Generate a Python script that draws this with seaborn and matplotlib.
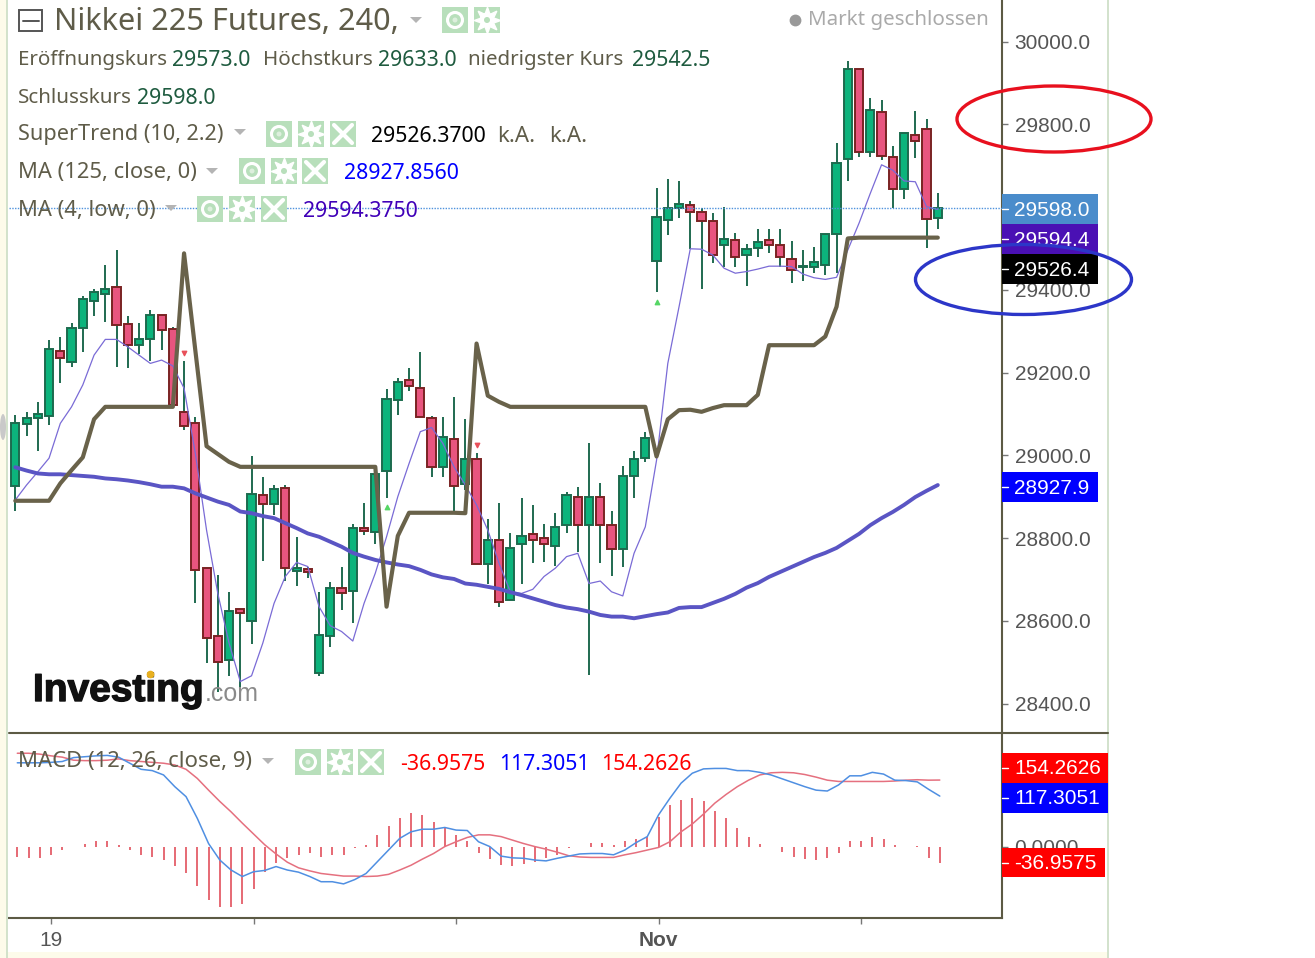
import matplotlib
matplotlib.use("Agg")
import matplotlib.pyplot as plt
import matplotlib.patheffects as pe
import numpy as np
import pandas as pd
import seaborn as sns
from matplotlib.patches import Ellipse, Rectangle, Circle, Polygon

# ---------- data ----------
opens = [28926,29076,29089,29095,29253,29225,29307,29374,29389,29407,29317,29266,29280,29340,29304,29104,29077,
         28727,28564,28505,28628,28600,28904,28881,28922,28721,28725,28473,28564,28678,28673,28823,28814,28963,
         29134,29181,29163,29090,28972,29040,28930,28991,28736,28795,28650,28786,28810,28801,28781,28831,28900,
         28831,28900,28831,28773,28950,28994,29470,29569,29597,29606,29589,29565,29507,29520,29484,29502,29521,
         29507,29474,29456,29456,29461,29534,29716,29934,29732,29830,29720,29643,29775,29789,29573]
highs = [29097,29105,29128,29279,29287,29319,29386,29403,29460,29496,29337,29319,29351,29340,29309,29228,29092,
         28727,28711,28670,28628,28997,28947,28928,28928,28802,28729,28670,28693,28729,28833,28884,28955,29159,
         29186,29210,29250,29095,29092,29142,29087,29005,28847,28884,28811,28896,28880,28833,28861,28910,28924,
         29029,28932,28865,28974,29010,29055,29645,29668,29663,29615,29597,29585,29599,29536,29510,29548,29548,
         29548,29518,29496,29504,29535,29754,29953,29934,29863,29859,29748,29780,29831,29812,29635]
lows = [28866,29047,29011,29074,29174,29214,29250,29337,29323,29214,29210,29245,29229,29254,29121,29061,28644,
        28499,28429,28467,28425,28545,28744,28856,28695,28685,28703,28467,28536,28626,28594,28807,28785,28897,
        29097,29156,29093,28948,28948,28865,28915,28736,28689,28634,28650,28689,28739,28743,28733,28811,28765,
        28469,28739,28707,28731,28897,28984,29395,29532,29573,29498,29401,29464,29456,29456,29410,29478,29488,
        29456,29416,29420,29441,29436,29441,29664,29722,29722,29714,29597,29619,29718,29500,29546]
closes = [29077,29091,29100,29258,29234,29308,29377,29395,29403,29316,29266,29281,29340,29303,29121,29071,28723,
          28559,28500,28624,28618,28906,28881,28918,28727,28728,28717,28565,28678,28667,28823,28816,28955,29136,
          29177,29167,29093,28972,29045,28926,28990,28736,28796,28645,28777,28805,28794,28786,28827,28905,28831,
          28900,28831,28773,28950,28990,29041,29576,29598,29607,29587,29565,29484,29522,29478,29499,29516,29507,
          29479,29448,29458,29467,29535,29706,29934,29733,29834,29724,29643,29780,29760,29570,29598]
supertrend = [28890,28890,28890,28890,28932,28964,28995,29087,29117,29117,29117,29117,29117,29117,29117,29488,29254,
              29022,29003,28984,28972,28972,28972,28972,28972,28972,28972,28972,28972,28972,28972,28972,28972,28634,
              28805,28861,28861,28861,28861,28861,28860,29270,29144,29129,29117,29117,29117,29117,29117,29117,29117,
              29117,29117,29117,29117,29117,29117,28997,29087,29109,29110,29105,29114,29121,29121,29121,29146,29266,
              29266,29266,29266,29266,29287,29359,29524,29526,29526,29526,29526,29526,29526,29526,29526]
ma125 = [28971,28963,28956,28954,28954,28952,28950,28948,28944,28942,28939,28935,28930,28924,28924,28920,28908,
         28898,28888,28880,28864,28860,28853,28848,28836,28824,28811,28803,28791,28779,28764,28755,28747,28741,
         28736,28732,28723,28712,28705,28701,28690,28687,28682,28677,28669,28662,28654,28646,28638,28632,28628,
         28622,28614,28610,28610,28606,28611,28616,28620,28631,28633,28633,28643,28653,28665,28680,28691,28706,
         28718,28730,28742,28754,28764,28776,28793,28810,28831,28848,28863,28880,28899,28914,28928]
ma4 = [28892,28928,28960,28993,29077,29117,29170,29242,29280,29280,29262,29242,29222,29230,29216,29162,29005,
       28819,28666,28546,28453,28467,28546,28642,28707,28741,28731,28634,28588,28574,28551,28642,28715,28803,
       28900,28980,29057,29067,29029,28972,28928,28880,28819,28739,28670,28666,28676,28707,28727,28755,28763,
       28690,28696,28670,28660,28763,28827,28988,29222,29359,29499,29498,29484,29452,29440,29444,29450,29457,
       29457,29456,29438,29429,29425,29430,29496,29561,29633,29702,29689,29663,29661,29601,29594]
macd_line = [194,194,194,195,197,206,208,210,211,207,193,179,176,166,139,116,66,8,-30,-53,-68,-57,-54,-45,-53,-58,
             -68,-80,-80,-85,-75,-61,-34,-7,20,35,41,41,45,39,38,12,1,-21,-25,-26,-30,-32,-26,-21,-16,-15,-15,-18,
             -7,10,24,74,112,147,170,180,181,181,176,176,172,166,157,148,139,131,129,143,164,164,172,168,154,153,
             150,133,117.3]
signal_line = [216,216,214,210,207,200,199,199,200,203,199,197,195,193,189,179,158,131,105,81,55,30,5,-16,-35,-48,
               -55,-61,-64,-67,-67,-68,-67,-63,-53,-42,-28,-15,1,12,22,28,28,24,16,8,1,-5,-12,-20,-23,-24,-24,-24,
               -18,-13,-7,-1,12,35,53,76,101,121,139,154,166,171,172,171,167,161,154,151,151,151,151,151,152,154,
               155,154,154.26]
hist = [-22,-26,-26,-18,-8,1,8,14,13,4,-8,-18,-22,-31,-43,-61,-91,-121,-138,-139,-131,-96,-57,-38,-26,-18,-13,-22,
        -18,-18,-3,5,27,48,66,78,73,57,44,27,14,-13,-27,-41,-43,-39,-35,-26,-18,-3,0,9,9,5,14,18,24,68,96,108,113,
        106,83,66,44,22,8,1,-12,-22,-27,-31,-26,-13,13,13,22,18,5,0,2,-26,-37]
price_ticks = [28400, 28600, 28800, 29000, 29200, 29400, 29600, 29800, 30000]
visible_price_ticks = [t for t in price_ticks if t != 29600]
date_tick_idx = [3, 21, 39, 57, 75]
date_tick_labels = ["19", "", "", "Nov", ""]
arrow_up = {33: 28874, 57: 29371}
arrow_down = {15: 29246, 41: 29025}
last_close = 29598

# ---------- styling ----------
sns.set_theme(style="white")
FONT = ["Noto Sans", "DejaVu Sans"]
TICK_FONT = ["Liberation Sans", "DejaVu Sans"]
plt.rcParams["font.family"] = FONT
W, H = 1315, 958
UP, UP_E = "#0CB47C", "#1C6B4E"
DN, DN_E = "#E8557F", "#7A2323"
WICK = "#1F6A50"
FRAME = "#5C5A44"
GREY = "#5F5C49"
DGREEN = "#1E5B3F"

fig = plt.figure(figsize=(W / 100, H / 100), dpi=100, facecolor="white")
L, R, T, MID, BOT = 9, 1002, 0, 733, 918
ax = fig.add_axes([L / W, 1 - MID / H, (R - L) / W, (MID - T) / H])
ax2 = fig.add_axes([L / W, 1 - BOT / H, (R - L) / W, (BOT - MID) / H])
ov = fig.add_axes([0, 0, 1, 1], zorder=10)
ov.set_xlim(0, W); ov.set_ylim(H, 0); ov.axis("off"); ov.patch.set_alpha(0)

idx = np.arange(len(closes))
df = pd.DataFrame({"i": idx, "o": opens, "h": highs, "l": lows, "c": closes,
                   "st": supertrend, "ma125": ma125, "ma4": ma4,
                   "macd": macd_line, "sig": signal_line, "hist": hist})

# ---------- price panel ----------
up = df.c >= df.o
ax.vlines(df.i, df.l, df.h, color=WICK, lw=1.4, zorder=2)
ax.bar(df.i[up], (df.c - df.o)[up], bottom=df.o[up], width=0.72, color=UP, edgecolor=UP_E, linewidth=1.4, zorder=3)
ax.bar(df.i[~up], (df.o - df.c)[~up], bottom=df.c[~up], width=0.72, color=DN, edgecolor=DN_E, linewidth=1.4, zorder=3)
sns.lineplot(data=df, x="i", y="ma4", ax=ax, color="#7A6BD6", lw=0.9, estimator=None, sort=False, zorder=4)
sns.lineplot(data=df, x="i", y="ma125", ax=ax, color="#5A55C4", lw=2.8, estimator=None, sort=False, zorder=4)
sns.lineplot(data=df, x="i", y="st", ax=ax, color="#69624A", lw=3.0, estimator=None, sort=False, zorder=5)
ax.axhline(last_close, color="#4F93DD", lw=1.0, ls=(0, (1, 1)), zorder=6)
ax.scatter(list(arrow_up), list(arrow_up.values()), marker="^", s=10, color="#55D665", zorder=6)
ax.scatter(list(arrow_down), list(arrow_down.values()), marker="v", s=10, color="#E8505A", zorder=6)

ax.set_xlim((L - 15.3) / 11.25, (R - 15.3) / 11.25)
ax.set_ylim(30000 - (MID - 41.5) * 2.4169, 30000 + 41.5 * 2.4169)
ax.set_xlabel(""); ax.set_ylabel(""); ax.set_xticks([])
ax.yaxis.tick_right()
ax.set_yticks(visible_price_ticks)
ax.set_yticklabels([f"{t:.1f}" for t in visible_price_ticks], family=TICK_FONT, fontsize=15, color="#555555")
ax.tick_params(axis="y", length=4.5, width=1, color="#777777", pad=4.5, right=True)
for s in ("top", "left", "bottom"):
    ax.spines[s].set_visible(False)
ax.spines["right"].set_color(FRAME); ax.spines["right"].set_linewidth(1.5)
ax.patch.set_alpha(0)

# ---------- MACD panel ----------
ax2.vlines(df.i, 0, df["hist"], color="#E2505C", lw=1.2, zorder=2)
sns.lineplot(data=df, x="i", y="sig", ax=ax2, color="#E5707F", lw=1.1, estimator=None, sort=False, zorder=3)
sns.lineplot(data=df, x="i", y="macd", ax=ax2, color="#4F8FE2", lw=1.1, estimator=None, sort=False, zorder=4)
ax2.set_xlim((L - 17.3) / 11.25, (R - 17.3) / 11.25)
ax2.set_ylim((847 - BOT) * 2.304, (847 - MID) * 2.304)
ax2.set_xlabel(""); ax2.set_ylabel("")
ax2.set_xticks(date_tick_idx)
ax2.set_xticklabels(date_tick_labels, family=TICK_FONT, fontsize=15, color="#555555")
for lab in ax2.get_xticklabels():
    if lab.get_text() == "Nov":
        lab.set_fontweight("bold")
ax2.tick_params(axis="x", length=4, width=1, color="#777777", pad=5, bottom=True)
ax2.yaxis.tick_right()
ax2.set_yticks([0]); ax2.set_yticklabels(["0.0000"], family=TICK_FONT, fontsize=15, color="#555555")
ax2.tick_params(axis="y", length=4.5, width=1, color="#777777", pad=4.5, right=True)
for s in ("top", "left"):
    ax2.spines[s].set_visible(False)
for s in ("right", "bottom"):
    ax2.spines[s].set_color(FRAME); ax2.spines[s].set_linewidth(1.5)
ax2.patch.set_alpha(0)

# ---------- page edges ----------
ov.add_patch(Rectangle((0, 0), 7, H, color="#FDFBEA", lw=0, zorder=0))
ov.add_patch(Rectangle((0, 952), 1108, 6, color="#FDFBEA", lw=0, zorder=0))
ov.plot([7.5, 7.5], [0, H], color="#CBDDC4", lw=1.2, zorder=1)
ov.plot([1108.5, 1108.5], [0, H], color="#CBDDC4", lw=1.2, zorder=1)
ov.plot([L, 1108], [MID, MID], color=FRAME, lw=1.5, zorder=1)
ov.add_patch(Ellipse((3, 427), 6, 26, color="#C9C9C9", lw=0, zorder=1))


def txt(x, y, s, color=GREY, size=14.8, family=FONT, weight="normal", ha="left", z=6):
    dy = 2 if family is FONT else 1
    return ov.text(x, y + dy, s, color=color, fontsize=size, family=family, weight=weight,
                   ha=ha, va="center", zorder=z)


def val(x, y, s, color=DGREEN):
    return txt(x, y, s, color, 15.3)


def tri(x, y):
    ov.add_patch(Polygon([(x - 6, y - 3), (x + 6, y - 3), (x, y + 3)], color="#B4B4B4", lw=0, zorder=6))


def icon(x, y, kind, s=26):
    ov.add_patch(Rectangle((x, y), s, s, color="#B8DFBB", lw=0, zorder=6))
    cx, cy = x + s / 2, y + s / 2
    if kind == "eye":
        ov.add_patch(Circle((cx, cy), 7.5, fc="none", ec="white", lw=2.2, zorder=7))
        ov.add_patch(Circle((cx, cy), 2.5, fc="#DDEFDD", ec="none", zorder=7))
    elif kind == "gear":
        ov.plot([cx], [cy], marker=(8, 1, 0), ms=19, mfc="white", mec="white", zorder=7)
        ov.add_patch(Circle((cx, cy), 7.5, fc="white", ec="none", zorder=7))
        ov.add_patch(Circle((cx, cy), 3, fc="#B8DFBB", ec="none", zorder=8))
    else:
        ov.plot([x + 4, x + s - 4], [y + 4, y + s - 4], color="white", lw=3, zorder=7)
        ov.plot([x + 4, x + s - 4], [y + s - 4, y + 4], color="white", lw=3, zorder=7)


# ---------- header ----------
ov.add_patch(Rectangle((19.5, 9.5), 23, 21, fc="none", ec="#555555", lw=1.4, zorder=6))
ov.plot([23, 39], [20.5, 20.5], color="#555555", lw=1.4, zorder=6)
txt(54, 20, "Nikkei 225 Futures, 240,", size=22.1)
tri(416, 20)
icon(442, 7, "eye"); icon(474, 7, "gear")
ov.plot([795], [20], marker="o", ms=7.5, color="#999999", zorder=6)
txt(808, 18, "Markt geschlossen", color="#AAAAAA", size=14.8)

txt(18, 58, "Eröffnungskurs"); val(172, 58, "29573.0")
txt(263, 58, "Höchstkurs"); val(378, 58, "29633.0")
txt(468, 58, "niedrigster Kurs"); val(632, 58, "29542.5")
txt(18, 96, "Schlusskurs"); val(137, 96, "29598.0")

txt(18, 132, "SuperTrend (10, 2.2)", size=15.6); tri(240, 132)
icon(266, 121, "eye"); icon(298, 121, "gear"); icon(330, 121, "x")
val(371, 134, "29526.3700", "#000000"); txt(497, 134, "k.A.", size=16); txt(549, 134, "k.A.", size=16)

txt(18, 170, "MA (125, close, 0)", size=15.8); tri(212, 171)
icon(239, 158, "eye"); icon(271, 158, "gear"); icon(302, 158, "x")
val(344, 171, "28927.8560", "#0000FF")

txt(18, 208, "MA (4, low, 0)", size=15.8); tri(171, 208)
icon(197, 196, "eye"); icon(229, 196, "gear"); icon(261, 196, "x")
val(303, 209, "29594.3750", "#4000B8")

txt(18, 760, "MACD (12, 26, close, 9)", size=15.9); tri(268, 761)
icon(295, 749, "eye"); icon(327, 749, "gear"); icon(358, 749, "x")
val(400, 762, "-36.9575", "#FF0000"); val(499, 762, "117.3051", "#0000FF"); val(601, 762, "154.2626", "#FF0000")

# ---------- price tags ----------
def tag(y0, y1, x1, color, s):
    ov.add_patch(Rectangle((1002, y0), x1 - 1002, y1 - y0, color=color, lw=0, zorder=4))
    ov.plot([1002, 1008], [(y0 + y1) / 2] * 2, color="white", lw=1, zorder=5)
    txt(1014, (y0 + y1) / 2, s, "white", 15, TICK_FONT, z=5)


tag(194, 224, 1098, "#4A8CCB", "29598.0")
tag(224, 254, 1098, "#4A10B4", "29594.4")
tag(254, 284, 1098, "#000000", "29526.4")
tag(472, 502, 1098, "#0000FF", "28927.9")
tag(753, 783, 1108, "#FF0000", "154.2626")
tag(783, 813, 1108, "#0000FF", "117.3051")
tag(848, 877, 1105, "#FF0000", "-36.9575")

# ---------- annotation ellipses ----------
ov.add_patch(Ellipse((1054, 119), 194, 66, fc="none", ec="#E8101E", lw=2.4, zorder=8))
ov.add_patch(Ellipse((1023.5, 279.5), 216, 70, fc="none", ec="#2C36C8", lw=2.4, zorder=8))

# ---------- logo ----------
logo = txt(33, 690, "Investing", "#111111", 28, TICK_FONT, "bold", z=3)
logo.set_path_effects([pe.withStroke(linewidth=1.0, foreground="#111111")])
txt(205, 693, ".com", "#8A8A8A", 18, TICK_FONT, z=3)
ov.plot([150], [674], marker="o", ms=4.5, color="#E8B020", zorder=3)

fig.savefig("out.png", dpi=100, facecolor="white")
